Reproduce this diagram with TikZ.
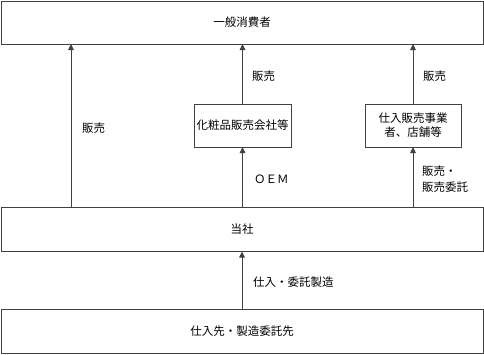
\documentclass[tikz,border=0pt]{standalone}
\usepackage{fontspec}
\setmainfont{Noto Sans CJK JP}
\usetikzlibrary{arrows, arrows.meta}
\tikzset{box/.style = {draw = black!75, line width = 0.9pt, fill = white, outer sep = 0pt, inner sep = 0pt, align = center, font = \fontsize{11.5}{14}\selectfont}}
\tikzset{edge/.style = {draw = black!75, line width = 0.9pt, -{Triangle[length = 6pt, width = 5.5pt]}}}
\tikzset{lbl/.style = {anchor = west, inner sep = 0pt, align = left, font = \fontsize{11.5}{16}\selectfont}}

\begin{document}
\begin{tikzpicture}[x = 1pt, y = -1pt]
				\useasboundingbox (0, 0) rectangle (484, 354);
				\node[box, minimum width = 482pt, minimum height = 43pt] (cons) at (242, 22.5) {一般消費者};
				\node[box, minimum width = 97pt, minimum height = 43pt] (oem) at (242.5, 125.5) {化粧品販売会社等};
				\node[box, minimum width = 96pt, minimum height = 43pt] (shop) at (413, 125.5) {仕入販売事業\\者、店舗等};
				\node[box, minimum width = 482pt, minimum height = 44pt] (self) at (242, 229.5) {当社};
				\node[box, minimum width = 482pt, minimum height = 44pt] (supp) at (242, 331) {仕入先・製造委託先};
	
				\draw[edge] ([xshift = -171pt]self.north) -- ([xshift = -171pt]cons.south);
				\draw[edge] (oem.north) -- (oem.north |- cons.south);
				\draw[edge] (shop.north) -- (shop.north |- cons.south);
				\draw[edge] (self.north -| oem.south) -- (oem.south);
				\draw[edge] (self.north -| shop.south) -- (shop.south);
				\draw[edge] (supp.north) -- (self.south);
	
				\node[lbl] (l1) at (82, 128) {販売};
				\node[lbl] (l2) at (252, 76) {販売};
				\node[lbl] (l3) at (423, 76) {販売};
				\node[lbl] (l4) at (254, 179) {ＯＥＭ};
				\node[lbl] (l5) at (422, 179) {販売・\\販売委託};
				\node[lbl] (l6) at (253, 282) {仕入・委託製造};
			\end{tikzpicture}
\end{document}
